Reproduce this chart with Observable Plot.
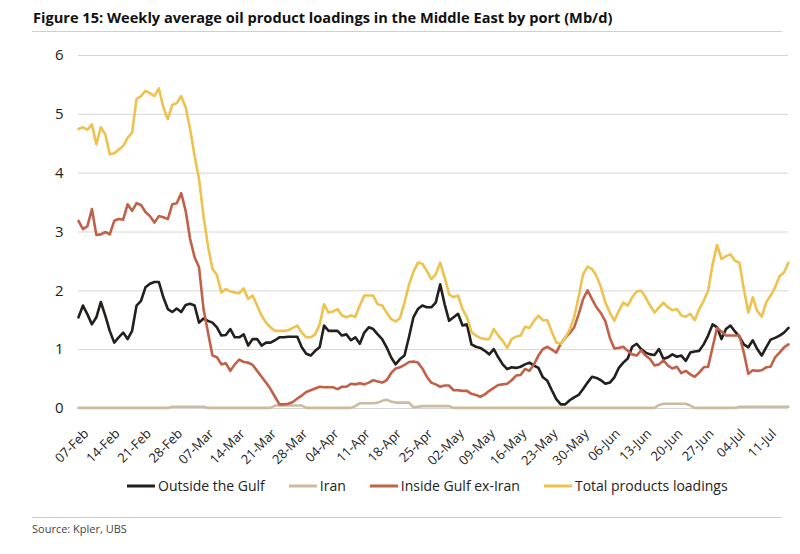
<!DOCTYPE html>
<html>
<head>
<meta charset="utf-8">
<script src="https://cdn.jsdelivr.net/npm/d3@7"></script>
<script src="https://cdn.jsdelivr.net/npm/@observablehq/plot@0.6"></script>
<style>
  body { margin: 0; background: #fff; font-family: "Open Sans", sans-serif; color: #222; }
  .wrap { position: relative; width: 800px; height: 554px; }
  .title { position: absolute; left: 33px; top: 7px; font-weight: 700; font-size: 14.6px; color: #111; white-space: nowrap; }
  .rule { position: absolute; left: 32px; width: 750px; height: 0; border-top: 1px solid #cfcfcf; }
  #chart { position: absolute; left: 0; top: 32px; }
  .legend { position: absolute; left: 127px; top: 476px; display: flex; align-items: center; font-size: 14px; color: #222; white-space: nowrap; }
  .legend .item { display: flex; align-items: center; margin-right: 24px; }
  .legend svg { margin-right: 3px; }
  .source { position: absolute; left: 32px; top: 521px; font-size: 11px; color: #444; }
</style>
</head>
<body>
<div class="wrap">
  <div class="title">Figure 15: Weekly average oil product loadings in the Middle East by port (Mb/d)</div>
  <div class="rule" style="top:31px"></div>
  <div id="chart"></div>
  <div class="legend" id="legend"></div>
  <div class="rule" style="top:517px"></div>
  <div class="source">Source: Kpler, UBS</div>
</div>
<script>
// Daily series, Mb/d, one value per day starting 07-Feb
const startDate = new Date(Date.UTC(2022, 1, 7));

const outsideGulf = [
  1.55, 1.75, 1.60, 1.43, 1.55, 1.81, 1.58, 1.32, 1.12, 1.21,
  1.29, 1.18, 1.32, 1.75, 1.83, 2.06, 2.12, 2.15, 2.15, 1.89,
  1.69, 1.64, 1.70, 1.64, 1.76, 1.78, 1.75, 1.46, 1.53, 1.49,
  1.46, 1.38, 1.24, 1.25, 1.35, 1.21, 1.21, 1.26, 1.07, 1.18,
  1.18, 1.07, 1.12, 1.12, 1.16, 1.21, 1.21, 1.22, 1.22, 1.22,
  1.04, 0.93, 0.90, 0.98, 1.04, 1.41, 1.32, 1.32, 1.32, 1.24,
  1.26, 1.16, 1.21, 1.10, 1.29, 1.38, 1.35, 1.26, 1.18, 1.04,
  0.87, 0.75, 0.84, 0.90, 1.21, 1.55, 1.69, 1.75, 1.72, 1.72,
  1.80, 2.11, 1.77, 1.49, 1.55, 1.61, 1.41, 1.43, 1.09, 1.05,
  1.03, 0.98, 0.92, 1.01, 0.87, 0.75, 0.67, 0.70, 0.69, 0.71,
  0.75, 0.78, 0.73, 0.69, 0.53, 0.47, 0.31, 0.16, 0.07, 0.07,
  0.14, 0.19, 0.23, 0.33, 0.44, 0.54, 0.52, 0.48, 0.42, 0.44,
  0.53, 0.69, 0.78, 0.85, 1.05, 1.10, 1.01, 0.95, 0.92, 0.91,
  1.01, 0.84, 0.87, 0.92, 0.88, 0.90, 0.81, 0.95, 0.97, 0.98,
  1.09, 1.24, 1.43, 1.38, 1.18, 1.35, 1.41, 1.31, 1.22, 1.09,
  1.04, 1.16, 1.01, 0.90, 1.04, 1.17, 1.20, 1.24, 1.29, 1.37
];

const iran = [
  0.01, 0.01, 0.01, 0.01, 0.01, 0.01, 0.01, 0.01, 0.01, 0.01,
  0.01, 0.01, 0.01, 0.01, 0.01, 0.01, 0.01, 0.01, 0.01, 0.01,
  0.01, 0.03, 0.03, 0.03, 0.03, 0.03, 0.03, 0.03, 0.03, 0.01,
  0.01, 0.01, 0.01, 0.01, 0.01, 0.01, 0.01, 0.01, 0.01, 0.01,
  0.01, 0.01, 0.01, 0.01, 0.05, 0.05, 0.05, 0.05, 0.05, 0.05,
  0.05, 0.01, 0.01, 0.01, 0.01, 0.01, 0.01, 0.01, 0.01, 0.01,
  0.01, 0.01, 0.04, 0.09, 0.09, 0.09, 0.09, 0.10, 0.13, 0.15,
  0.12, 0.10, 0.10, 0.10, 0.10, 0.02, 0.03, 0.04, 0.04, 0.04,
  0.04, 0.04, 0.04, 0.04, 0.01, 0.01, 0.01, 0.01, 0.01, 0.01,
  0.01, 0.01, 0.01, 0.01, 0.01, 0.01, 0.01, 0.01, 0.01, 0.01,
  0.01, 0.01, 0.01, 0.01, 0.01, 0.01, 0.01, 0.01, 0.01, 0.01,
  0.01, 0.01, 0.01, 0.01, 0.01, 0.01, 0.01, 0.01, 0.01, 0.01,
  0.01, 0.01, 0.01, 0.01, 0.01, 0.01, 0.01, 0.01, 0.01, 0.01,
  0.06, 0.08, 0.08, 0.08, 0.08, 0.08, 0.08, 0.05, 0.01, 0.01,
  0.01, 0.01, 0.01, 0.01, 0.01, 0.01, 0.01, 0.01, 0.03, 0.03,
  0.03, 0.03, 0.03, 0.03, 0.03, 0.03, 0.03, 0.03, 0.03, 0.03
];

const insideGulfExIran = [
  3.19, 3.05, 3.10, 3.39, 2.95, 2.96, 3.00, 2.96, 3.19, 3.22,
  3.21, 3.47, 3.36, 3.49, 3.46, 3.34, 3.27, 3.16, 3.27, 3.25,
  3.22, 3.47, 3.49, 3.66, 3.36, 2.88, 2.57, 2.40, 1.69, 1.29,
  0.90, 0.87, 0.75, 0.77, 0.64, 0.75, 0.83, 0.79, 0.78, 0.74,
  0.64, 0.54, 0.44, 0.33, 0.20, 0.07, 0.07, 0.08, 0.11, 0.17,
  0.22, 0.28, 0.31, 0.34, 0.37, 0.36, 0.36, 0.36, 0.33, 0.37,
  0.37, 0.42, 0.41, 0.43, 0.41, 0.44, 0.48, 0.46, 0.44, 0.48,
  0.60, 0.68, 0.70, 0.74, 0.79, 0.80, 0.78, 0.68, 0.54, 0.44,
  0.41, 0.37, 0.39, 0.39, 0.31, 0.31, 0.30, 0.30, 0.25, 0.23,
  0.20, 0.24, 0.30, 0.35, 0.40, 0.41, 0.42, 0.48, 0.56, 0.57,
  0.67, 0.64, 0.75, 0.90, 1.01, 1.05, 1.00, 0.95, 1.10, 1.20,
  1.28, 1.38, 1.60, 1.86, 2.01, 1.86, 1.72, 1.62, 1.48, 1.20,
  1.02, 1.03, 1.05, 0.98, 0.92, 0.90, 0.99, 0.90, 0.84, 0.73,
  0.75, 0.82, 0.73, 0.68, 0.71, 0.60, 0.64, 0.58, 0.54, 0.61,
  0.70, 0.71, 1.04, 1.37, 1.31, 1.24, 1.24, 1.24, 1.24, 0.95,
  0.59, 0.65, 0.64, 0.65, 0.70, 0.71, 0.87, 0.95, 1.04, 1.09
];

const totalLoadings = [
  4.75, 4.78, 4.74, 4.83, 4.49, 4.78, 4.66, 4.32, 4.34, 4.40,
  4.46, 4.60, 4.69, 5.26, 5.31, 5.40, 5.36, 5.31, 5.44, 5.12,
  4.92, 5.16, 5.19, 5.31, 5.12, 4.75, 4.29, 3.90, 3.27, 2.76,
  2.37, 2.27, 1.97, 2.03, 1.99, 1.97, 1.96, 2.04, 1.86, 1.92,
  1.75, 1.58, 1.46, 1.38, 1.32, 1.32, 1.32, 1.33, 1.37, 1.41,
  1.29, 1.21, 1.21, 1.26, 1.43, 1.77, 1.63, 1.65, 1.69, 1.58,
  1.55, 1.58, 1.56, 1.75, 1.92, 1.92, 1.92, 1.77, 1.75, 1.63,
  1.52, 1.48, 1.54, 1.80, 2.10, 2.32, 2.48, 2.46, 2.34, 2.20,
  2.28, 2.48, 2.23, 1.94, 1.89, 1.92, 1.69, 1.55, 1.30, 1.24,
  1.20, 1.18, 1.18, 1.35, 1.24, 1.15, 1.03, 1.18, 1.22, 1.24,
  1.39, 1.37, 1.49, 1.58, 1.50, 1.50, 1.30, 1.12, 1.10, 1.20,
  1.34, 1.55, 1.90, 2.28, 2.41, 2.37, 2.25, 2.06, 1.80, 1.63,
  1.49, 1.66, 1.80, 1.75, 1.89, 1.99, 2.00, 1.89, 1.75, 1.63,
  1.72, 1.80, 1.72, 1.67, 1.69, 1.58, 1.56, 1.61, 1.50, 1.69,
  1.83, 2.00, 2.45, 2.78, 2.54, 2.59, 2.62, 2.51, 2.48, 2.03,
  1.63, 1.89, 1.66, 1.56, 1.80, 1.92, 2.06, 2.25, 2.31, 2.48
];

const seriesNames = ["Outside the Gulf", "Iran", "Inside Gulf ex-Iran", "Total products loadings"];
const seriesColors = ["#231f1c", "#cbbc9f", "#c2614a", "#eec24e"];
const yTicks = [0, 1, 2, 3, 4, 5, 6];
const weeklyTickCount = 23; // 07-Feb through 11-Jul

const day = i => new Date(startDate.getTime() + i * 864e5);
const seriesValues = [outsideGulf, iran, insideGulfExIran, totalLoadings];

const rows = [];
seriesValues.forEach((vals, s) => {
  vals.forEach((v, i) => rows.push({ date: day(i), value: v, series: seriesNames[s] }));
});

const xTicks = d3.range(weeklyTickCount).map(w => day(w * 7));
const fmt = d3.utcFormat("%d-%b");

const chart = Plot.plot({
  width: 800,
  height: 440,
  marginLeft: 78,
  marginRight: 12,
  marginTop: 23,
  marginBottom: 64,
  style: { fontFamily: "'Open Sans', sans-serif", color: "#222", background: "transparent" },
  x: { type: "utc", domain: [day(0), day(outsideGulf.length - 1)], axis: null },
  y: { domain: [0, 6] },
  color: { domain: seriesNames, range: seriesColors },
  marks: [
    Plot.gridY(yTicks, { stroke: "#d6d6d6", strokeOpacity: 1, strokeWidth: 1 }),
    Plot.axisY({ ticks: yTicks, tickSize: 0, tickPadding: 15, fontSize: 15, label: null, tickFormat: d => String(d) }),
    // weekly date labels, slanted, ending just below each tick position
    Plot.text(xTicks, {
      x: d => d, frameAnchor: "bottom", text: d => fmt(d),
      rotate: -45, textAnchor: "end", lineAnchor: "middle",
      dx: 8, dy: 23, fontSize: 13, fill: "#222"
    }),
    Plot.line(rows, {
      x: "date", y: "value", z: "series", stroke: "series",
      strokeWidth: 2.6, strokeLinejoin: "round", strokeLinecap: "round", curve: "linear"
    })
  ]
});
document.getElementById("chart").appendChild(chart);

// Legend
const legend = document.getElementById("legend");
seriesNames.forEach((name, i) => {
  const item = document.createElement("div");
  item.className = "item";
  item.innerHTML = `<svg width="28" height="10"><line x1="0" y1="5" x2="28" y2="5" stroke="${seriesColors[i]}" stroke-width="3"/></svg><span>${name}</span>`;
  legend.appendChild(item);
});
</script>
</body>
</html>
